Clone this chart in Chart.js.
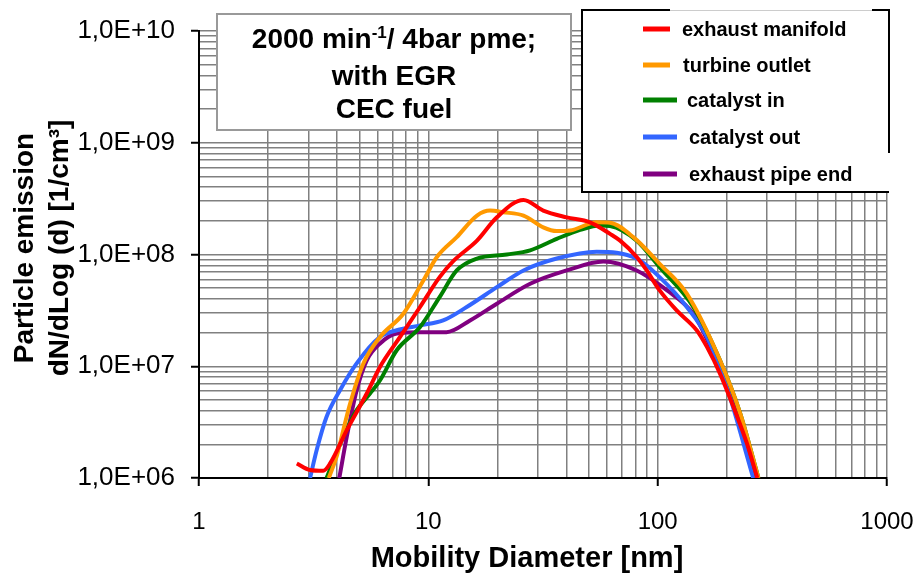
<!DOCTYPE html>
<html lang="en">
<head>
<meta charset="utf-8" />
<title>Particle emission</title>
<script src="https://cdn.jsdelivr.net/npm/chart.js"></script>
<style>
  body { margin: 0; background: #fff; }
  #wrap { width: 916px; height: 574px; }
</style>
</head>
<body>
<div id="wrap"><canvas id="myChart" width="916" height="574"></canvas></div>
<script>
const seriesNames = ["exhaust manifold", "turbine outlet", "catalyst in", "catalyst out", "exhaust pipe end"];
const seriesColors = ["#ff0000", "#ff9900", "#008000", "#3366ff", "#800080"];

// mobility diameter [nm] / particle emission dN/dLog(d) [1/cm3], one pair per curve
const manifoldD = [2.67, 3.05, 3.48, 3.73, 4.41, 5.39, 6.16, 7.53, 9.2, 11.2, 12.9, 16.3, 19.9, 26, 31.7, 40.1, 50.7, 62, 68.6, 81, 89.6, 102, 121, 148, 164, 187, 214, 245, 272];
const manifoldN = [1.35e6, 1.18e6, 1.16e6, 1.35e6, 2.68e6, 5.7e6, 9.9e6, 1.83e7, 3.39e7, 6.27e7, 8.8e7, 1.33e8, 2.15e8, 3.08e8, 2.47e8, 2.15e8, 1.94e8, 1.53e8, 1.33e8, 9.5e7, 7.2e7, 4.77e7, 3.16e7, 2.1e7, 1.49e7, 8.6e6, 4.33e6, 2.04e6, 1.0e6];

const turbineD = [3.68, 3.98, 4.12, 4.56, 5.21, 6.16, 7.78, 9.51, 10.9, 13.3, 16.3, 18.6, 21.2, 26, 31.7, 36.3, 41.5, 54.2, 62, 78.3, 102, 134, 187, 229, 275];
const turbineN = [1.0e6, 1.55e6, 2.04e6, 4.64e6, 1.06e7, 1.83e7, 2.95e7, 5.86e7, 9.5e7, 1.43e8, 2.23e8, 2.47e8, 2.39e8, 2.23e8, 1.75e8, 1.62e8, 1.64e8, 1.94e8, 1.92e8, 1.43e8, 8.26e7, 4.46e7, 1.13e7, 3.78e6, 1.0e6];

const catInD = [3.6, 4.26, 4.87, 5.57, 6.16, 7.28, 9.2, 11.2, 13.3, 16.3, 22, 27.8, 36.3, 45.9, 56.1, 62, 81, 102, 143, 187, 229, 275];
const catInN = [1.0e6, 2.34e6, 4.05e6, 5.7e6, 7.5e6, 1.39e7, 2.24e7, 4.16e7, 7.2e7, 9.2e7, 1.0e8, 1.09e8, 1.38e8, 1.66e8, 1.82e8, 1.8e8, 1.33e8, 7.7e7, 3.39e7, 1.13e7, 3.78e6, 1.0e6];

const catOutD = [3.05, 3.26, 3.6, 4.12, 4.87, 6.16, 7.28, 9.2, 11.6, 14.7, 19.9, 26, 36.3, 54.2, 81, 102, 134, 164, 200, 261];
const catOutN = [1.0e6, 1.78e6, 3.53e6, 6.1e6, 1.06e7, 1.83e7, 2.1e7, 2.32e7, 2.57e7, 3.39e7, 5.1e7, 7.2e7, 9.2e7, 1.06e8, 9.2e7, 6.27e7, 3.39e7, 1.83e7, 6.53e6, 1.0e6];

const pipeEndD = [4.09, 4.41, 4.87, 5.39, 6.16, 7.28, 9.2, 12.0, 15.2, 19.9, 27.8, 40.1, 58, 81, 110, 143, 164, 200, 270];
const pipeEndN = [1.0e6, 2.34e6, 6.1e6, 1.13e7, 1.6e7, 1.96e7, 2.02e7, 2.02e7, 2.57e7, 3.63e7, 5.47e7, 7.2e7, 8.66e7, 7.2e7, 4.77e7, 2.95e7, 1.75e7, 6.8e6, 1.0e6];

const xTickValues = [1, 10, 100, 1000];
const xTickLabels = ["1", "10", "100", "1000"];
const yTickValues = [1e6, 1e7, 1e8, 1e9, 1e10];
const yTickLabels = ["1,0E+06", "1,0E+07", "1,0E+08", "1,0E+09", "1,0E+10"];

const xTitle = "Mobility Diameter [nm]";
const yTitle = ["Particle emission", "dN/dLog (d) [1/cm\u00b3]"];
const boxLine1 = ["2000 min", "-1", "/ 4bar pme;"];
const boxLines = ["with EGR", "CEC fuel"];

const FONT = "'Liberation Sans', Arial, sans-serif";

function pts(d, n) {
  return d.map((x, i) => ({ x: x, y: n[i] }));
}

// 1..9 x 10^k grid lines for a log axis
function logGrid(lo, hi) {
  const out = [];
  for (let e = Math.round(Math.log10(lo)); e < Math.round(Math.log10(hi)); e++) {
    for (let m = 1; m < 10; m++) out.push(m * Math.pow(10, e));
  }
  out.push(hi);
  return out;
}

function labelFor(v, values, labels) {
  for (let i = 0; i < values.length; i++) {
    if (Math.abs(Math.log10(v) - Math.log10(values[i])) < 1e-6) return labels[i];
  }
  return "";
}

function isDecade(v) {
  const l = Math.log10(v);
  return Math.abs(l - Math.round(l)) < 1e-6;
}

const tickCol = (c) => (c.tick && isDecade(c.tick.value) ? "#000" : "rgba(0,0,0,0)");

const curves = [
  pts(manifoldD, manifoldN),
  pts(turbineD, turbineN),
  pts(catInD, catInN),
  pts(catOutD, catOutN),
  pts(pipeEndD, pipeEndN),
];

const extras = {
  id: "extras",
  afterDraw(chart) {
    const c = chart.ctx;
    c.save();

    // condition box
    c.fillStyle = "#fff";
    c.fillRect(217, 14, 354, 116);
    c.strokeStyle = "#999";
    c.lineWidth = 2;
    c.strokeRect(217, 14, 354, 116);

    c.fillStyle = "#000";
    c.textBaseline = "alphabetic";
    const big = "bold 28px " + FONT;
    const sup = "bold 17px " + FONT;
    c.font = big;
    const w0 = c.measureText(boxLine1[0]).width;
    const w2 = c.measureText(boxLine1[2]).width;
    c.font = sup;
    const w1 = c.measureText(boxLine1[1]).width;
    let x = 394 - (w0 + w1 + w2) / 2;
    c.textAlign = "left";
    c.font = big;
    c.fillText(boxLine1[0], x, 48);
    c.font = sup;
    c.fillText(boxLine1[1], x + w0, 38);
    c.font = big;
    c.fillText(boxLine1[2], x + w0 + w1, 48);
    c.textAlign = "center";
    c.fillText(boxLines[0], 394, 85);
    c.fillText(boxLines[1], 394, 118);

    // legend
    c.fillStyle = "#fff";
    c.fillRect(582, 10, 307, 182);
    c.strokeStyle = "#000";
    c.lineWidth = 2;
    c.beginPath();
    c.moveTo(670, 10); c.lineTo(582, 10); c.lineTo(582, 192); c.lineTo(889, 192);
    c.moveTo(872, 10); c.lineTo(889, 10); c.lineTo(889, 153);
    c.stroke();
    c.strokeStyle = "#ccc";
    c.lineWidth = 1;
    c.beginPath();
    c.moveTo(670, 10.5); c.lineTo(872, 10.5);
    c.stroke();

    const rowY = [29, 65, 100, 137, 174];
    const textX = [682, 683, 687, 689, 689];
    const sampleEnd = [670, 670, 677, 677, 677];
    c.font = "bold 20px " + FONT;
    c.textAlign = "left";
    c.textBaseline = "alphabetic";
    chart.data.datasets.forEach((ds, i) => {
      c.strokeStyle = ds.borderColor;
      c.lineWidth = 5;
      c.beginPath();
      c.moveTo(643, rowY[i]);
      c.lineTo(sampleEnd[i], rowY[i]);
      c.stroke();
      c.fillStyle = "#000";
      c.fillText(ds.label, textX[i], rowY[i] + 7);
    });

    // axis titles
    c.fillStyle = "#000";
    c.font = "bold 29px " + FONT;
    c.textAlign = "center";
    c.fillText(xTitle, 527, 567);

    c.font = "bold 28px " + FONT;
    c.translate(33, 248);
    c.rotate(-Math.PI / 2);
    c.fillText(yTitle[0], 0, 0);
    c.fillText(yTitle[1], 0, 35);
    c.restore();
  },
};

const ctx = document.getElementById("myChart");

const myChart = new Chart(ctx, {
  type: "line",
  data: {
    datasets: seriesNames.map((name, i) => ({
      label: name,
      data: curves[i],
      borderColor: seriesColors[i],
      backgroundColor: seriesColors[i],
      borderWidth: 4,
      pointRadius: 0,
      fill: false,
      cubicInterpolationMode: "monotone",
    })),
  },
  options: {
    responsive: false,
    animation: false,
    layout: { padding: { top: 31, right: 29, left: 0, bottom: 0 } },
    plugins: {
      legend: { display: false },
      tooltip: { enabled: false },
    },
    scales: {
      x: {
        type: "logarithmic",
        min: 1,
        max: 1000,
        afterBuildTicks: (s) => { s.ticks = logGrid(1, 1000).map((v) => ({ value: v })); },
        afterFit: (s) => { s.height = 96; s.paddingLeft = 0; s.paddingRight = 0; },
        ticks: {
          autoSkip: false,
          maxRotation: 0,
          padding: 22,
          color: "#000",
          font: { family: FONT, size: 24 },
          callback: (v) => labelFor(v, xTickValues, xTickLabels),
        },
        grid: { color: "#808080", lineWidth: 1.5, tickLength: 8, tickColor: tickCol, tickWidth: 2 },
        border: { color: "#000", width: 2 },
      },
      y: {
        type: "logarithmic",
        min: 1e6,
        max: 1e10,
        afterBuildTicks: (s) => { s.ticks = logGrid(1e6, 1e10).map((v) => ({ value: v })); },
        afterFit: (s) => { s.width = 199; s.paddingTop = 0; s.paddingBottom = 0; },
        ticks: {
          autoSkip: false,
          padding: 16,
          color: "#000",
          font: { family: FONT, size: 26 },
          callback: (v) => labelFor(v, yTickValues, yTickLabels),
        },
        grid: { color: "#808080", lineWidth: 1.5, tickLength: 8, tickColor: tickCol, tickWidth: 2 },
        border: { color: "#000", width: 2 },
      },
    },
  },
  plugins: [extras],
});
</script>
</body>
</html>
